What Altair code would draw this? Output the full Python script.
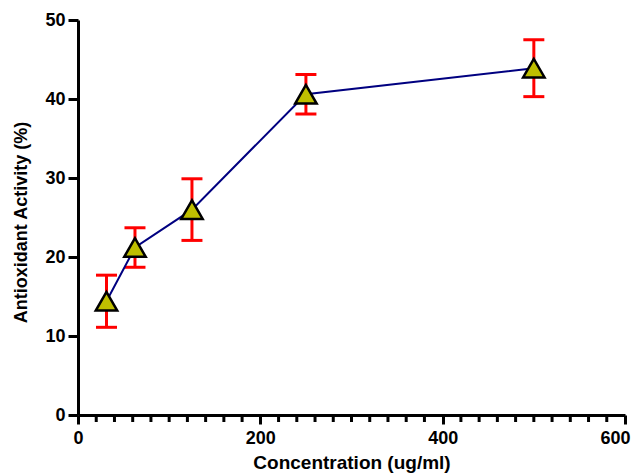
import altair as alt
import pandas as pd

# Data
conc = [31.25, 62.5, 125, 250, 500]
activity = [14.4, 21.2, 26.0, 40.6, 43.9]
sd = [3.3, 2.5, 3.9, 2.5, 3.6]

x_major = [0, 200, 400, 600]
x_minor = [v for v in range(20, 600, 20) if v % 200 != 0]
y_ticks = [0, 10, 20, 30, 40, 50]

df = pd.DataFrame({
    "conc": conc,
    "act": activity,
    "lo": [a - s for a, s in zip(activity, sd)],
    "hi": [a + s for a, s in zip(activity, sd)],
})
minor_df = pd.DataFrame({"v": x_minor})

FONT = "Liberation Sans"
xs = alt.Scale(domain=[0, 600], nice=False, zero=True)
ys = alt.Scale(domain=[0, 50], nice=False)

x_axis = alt.Axis(values=x_major, title="Concentration (ug/ml)", grid=False,
                  domainColor="black", domainWidth=3, tickColor="black",
                  tickWidth=3, tickSize=9, labelFont=FONT, labelFontWeight="bold",
                  labelFontSize=18, labelColor="black", labelPadding=5,
                  labelFlush=True, labelFlushOffset=5, labelOverlap=False,
                  titleFont=FONT, titleFontWeight="bold", titleFontSize=19,
                  titleColor="black", titlePadding=6)
y_axis = alt.Axis(values=y_ticks, title="Antioxidant Activity (%)", grid=False,
                  domainColor="black", domainWidth=3, tickColor="black",
                  tickWidth=3, tickSize=10, labelFont=FONT, labelFontWeight="bold",
                  labelFontSize=18, labelColor="black", labelPadding=3,
                  labelFlush=False, labelOverlap=False,
                  titleFont=FONT, titleFontWeight="bold", titleFontSize=18,
                  titleColor="black", titlePadding=14, titleY=202)

X = lambda f: alt.X(f, scale=xs, axis=x_axis)
Y = lambda f: alt.Y(f, scale=ys, axis=y_axis)

base = alt.Chart(df)

err = base.mark_rule(color="#ff0000", strokeWidth=3, opacity=1).encode(
    x=X("conc:Q"), y=Y("lo:Q"), y2="hi:Q",
)
cap_lo = base.mark_tick(color="#ff0000", orient="horizontal", size=21, thickness=3,
                        opacity=1).encode(x=X("conc:Q"), y=Y("lo:Q"))
cap_hi = base.mark_tick(color="#ff0000", orient="horizontal", size=21, thickness=3,
                        opacity=1).encode(x=X("conc:Q"), y=Y("hi:Q"))
line = base.mark_line(color="#000080", strokeWidth=2).encode(
    x=X("conc:Q"), y=Y("act:Q"),
)
pts = base.mark_point(shape="triangle-up", filled=True, fill="#BFBF00", stroke="black",
                      strokeWidth=2.5, size=460, opacity=1).encode(
    x=X("conc:Q"), y=Y("act:Q"),
)
minor = alt.Chart(minor_df).mark_rule(color="black", strokeWidth=3).encode(
    x=X("v:Q"),
    y=alt.value(395),
    y2=alt.value(402),
)

chart = alt.layer(err, cap_lo, cap_hi, line, pts, minor).properties(
    width=547, height=395,
    autosize=alt.AutoSizeParams(type="none"),
    padding={"left": 70, "top": 12, "right": 9, "bottom": 58},
).configure_view(stroke=None)

chart.save("out.html", embed_options={"renderer": "svg", "actions": False})
